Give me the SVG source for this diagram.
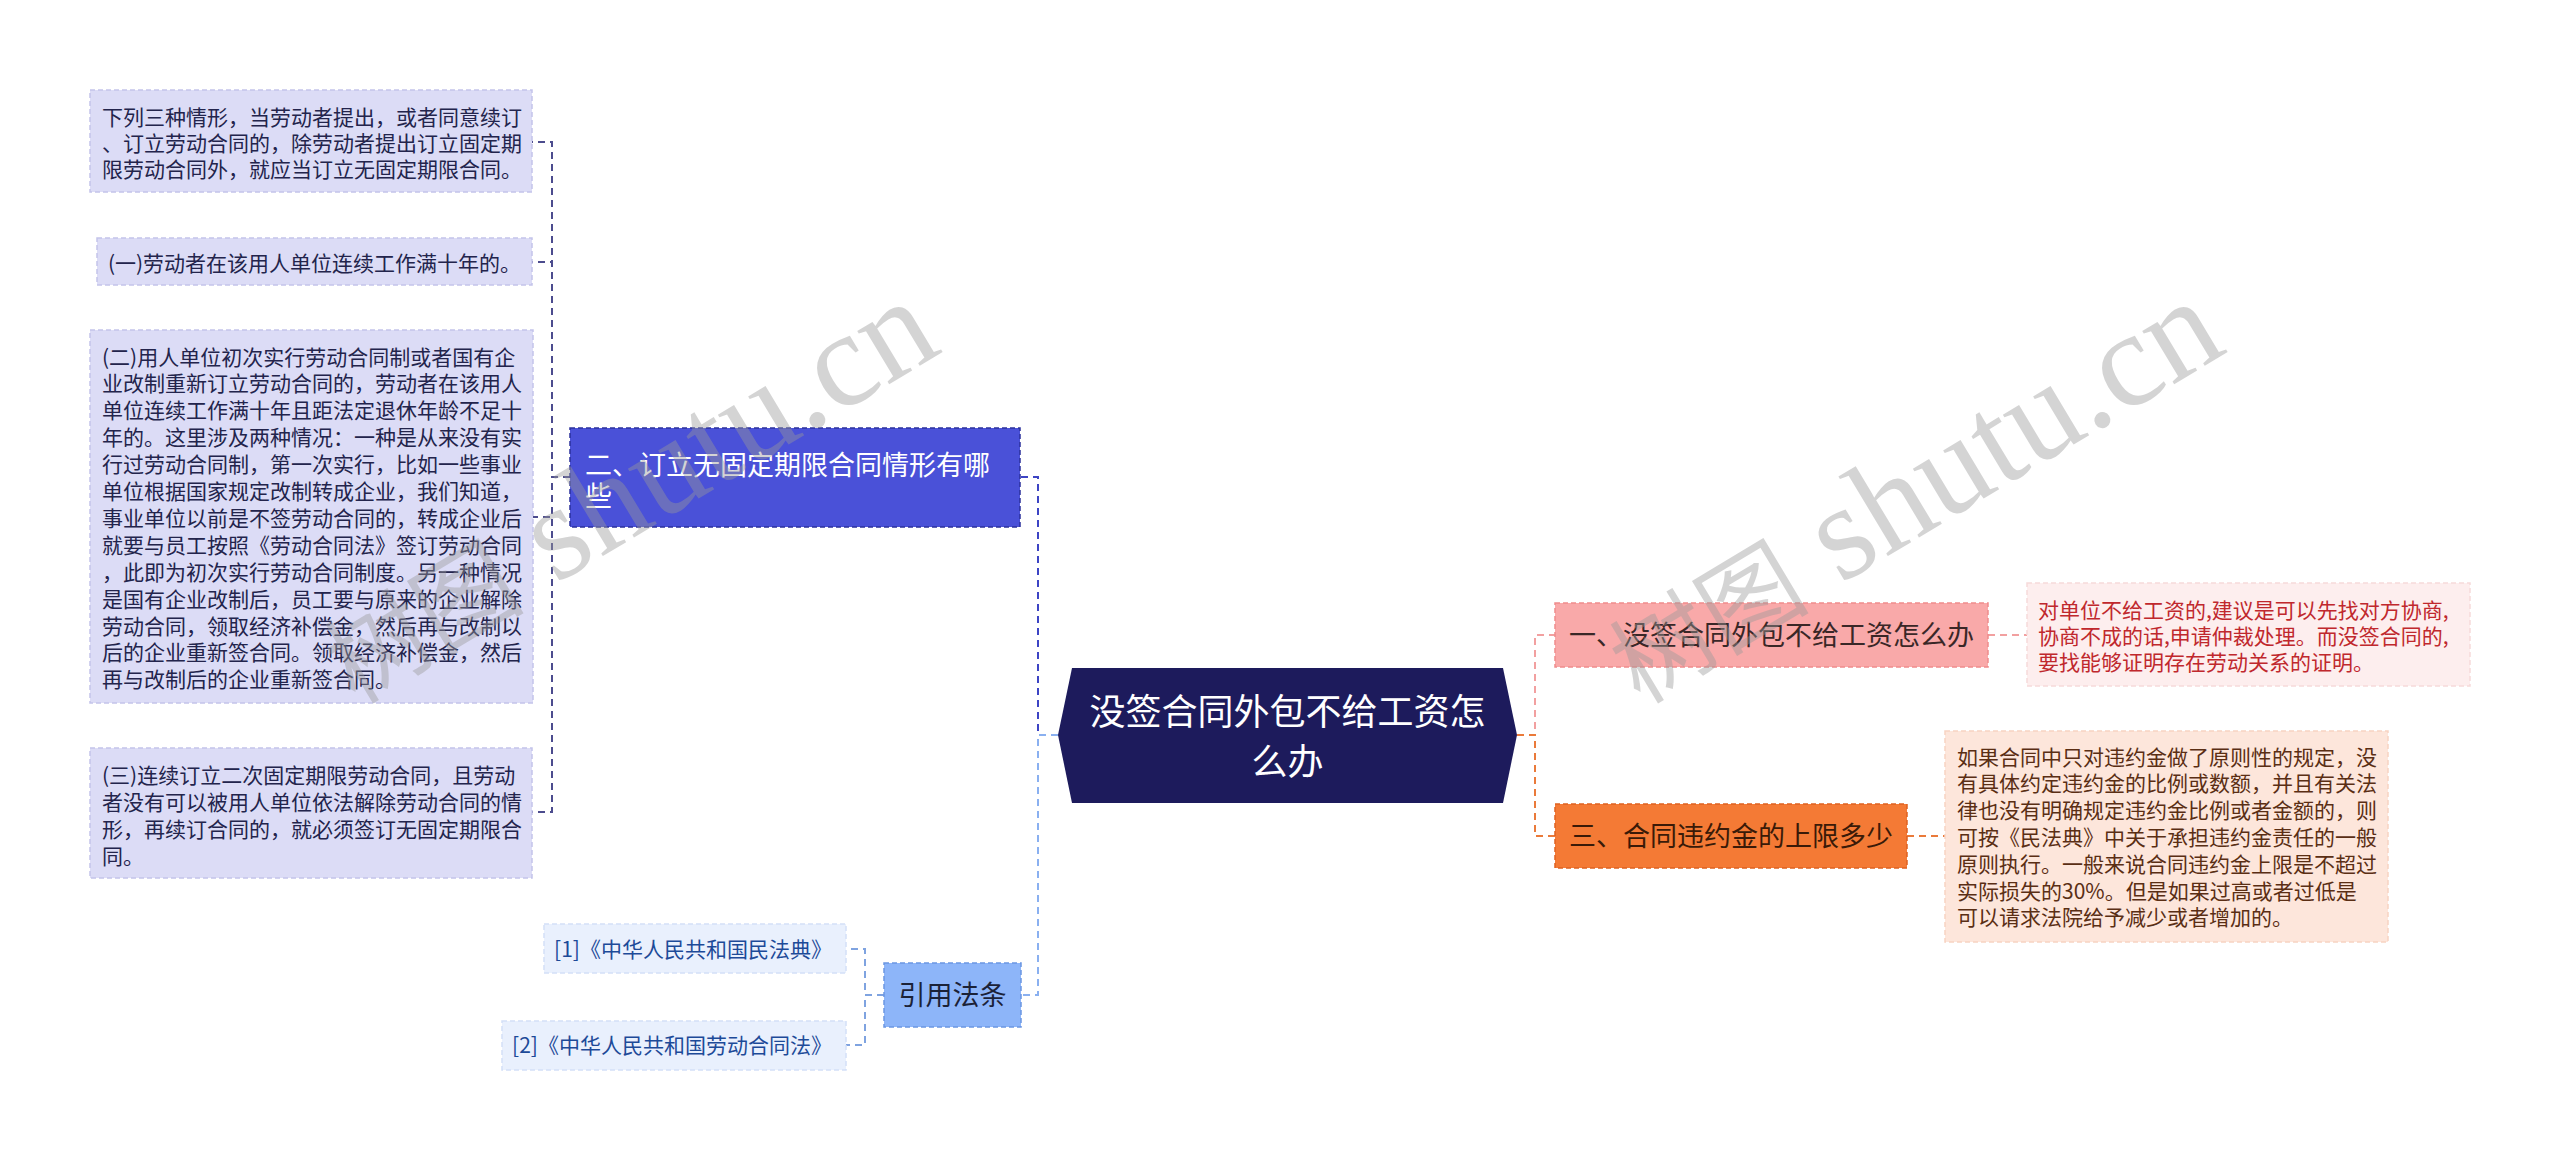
<svg xmlns="http://www.w3.org/2000/svg" width="2560" height="1155" viewBox="0 0 2560 1155">
<defs>
<style>
text{font-family:'Noto Sans CJK SC','Noto Sans',sans-serif;}
.conn{fill:none;stroke-width:2;stroke-dasharray:7 5;}
.lf{font-size:21px;fill:#23244c;}
.leafL{fill:#dcdcf6;stroke:#c4c4ea;stroke-width:1.5;stroke-dasharray:5 3;}
.cite{fill:#e9f0fd;stroke:#d3e0f8;stroke-width:1.5;stroke-dasharray:5 3;}
.citeT{font-size:21px;fill:#1d4a98;}
.wm{fill:#9a9a9a;opacity:0.42;}
</style>
</defs>
<rect width="2560" height="1155" fill="#ffffff"/>

<g id="connectors">
<path class="conn" stroke="#3d44c4" d="M1058,735 H1038 V477 H1020"/>
<path class="conn" stroke="#8ab0f0" d="M1058,735 H1038 V995 H1021"/>
<path class="conn" stroke="#f2a0a0" d="M1517,735 H1535 V635 H1555"/>
<path class="conn" stroke="#ea7a3a" d="M1517,735 H1535 V836 H1555"/>
<path class="conn" stroke="#4c4c8e" d="M570,477 H552 V142 H532"/>
<path class="conn" stroke="#4c4c8e" d="M570,477 H552 V262 H532"/>
<path class="conn" stroke="#4c4c8e" d="M570,477 H552 V517 H533"/>
<path class="conn" stroke="#4c4c8e" d="M570,477 H552 V812 H532"/>
<path class="conn" stroke="#f2a0a0" d="M1988,635 H2027"/>
<path class="conn" stroke="#ea7a3a" d="M1907,836 H1945"/>
<path class="conn" stroke="#7fa3e0" d="M884,995 H865 V949 H846"/>
<path class="conn" stroke="#7fa3e0" d="M884,995 H865 V1045 H846"/>
</g>

<g id="root">
<polygon points="1058,735 1072,668 1503,668 1517,735 1503,803 1072,803" fill="#1d1b5c"/>
<text x="1287.5" y="724.5" font-size="36" fill="#ffffff" text-anchor="middle">没签合同外包不给工资怎</text>
<text x="1287.5" y="774.5" font-size="36" fill="#ffffff" text-anchor="middle">么办</text>
</g>

<g id="node-2">
<rect x="570" y="428" width="450" height="99" fill="#4a51d8" stroke="#2b309c" stroke-width="1.5" stroke-dasharray="5 3"/>
<text x="585" y="475" font-size="27" fill="#ffffff">二、订立无固定期限合同情形有哪</text>
<text x="585" y="506" font-size="27" fill="#ffffff">些</text>
</g>

<g id="leaf-2a">
<rect class="leafL" x="90" y="90" width="442" height="102"/>
<text class="lf" x="102" y="124.5">下列三种情形，当劳动者提出，或者同意续订</text>
<text class="lf" x="102" y="150.5">、订立劳动合同的，除劳动者提出订立固定期</text>
<text class="lf" x="102" y="176.5">限劳动合同外，就应当订立无固定期限合同。</text>
</g>

<g id="leaf-2b">
<rect class="leafL" x="97" y="238" width="435" height="47"/>
<text class="lf" x="314.5" y="270.5" text-anchor="middle">(一)劳动者在该用人单位连续工作满十年的。</text>
</g>

<g id="leaf-2c">
<rect class="leafL" x="90" y="330" width="443" height="373"/>
<text class="lf" x="102" y="364.5">(二)用人单位初次实行劳动合同制或者国有企</text>
<text class="lf" x="102" y="391.4">业改制重新订立劳动合同的，劳动者在该用人</text>
<text class="lf" x="102" y="418.3">单位连续工作满十年且距法定退休年龄不足十</text>
<text class="lf" x="102" y="445.2">年的。这里涉及两种情况：一种是从来没有实</text>
<text class="lf" x="102" y="472.1">行过劳动合同制，第一次实行，比如一些事业</text>
<text class="lf" x="102" y="499">单位根据国家规定改制转成企业，我们知道，</text>
<text class="lf" x="102" y="525.9">事业单位以前是不签劳动合同的，转成企业后</text>
<text class="lf" x="102" y="552.8">就要与员工按照《劳动合同法》签订劳动合同</text>
<text class="lf" x="102" y="579.7">，此即为初次实行劳动合同制度。另一种情况</text>
<text class="lf" x="102" y="606.6">是国有企业改制后，员工要与原来的企业解除</text>
<text class="lf" x="102" y="633.5">劳动合同，领取经济补偿金，然后再与改制以</text>
<text class="lf" x="102" y="660.4">后的企业重新签合同。领取经济补偿金，然后</text>
<text class="lf" x="102" y="687.3">再与改制后的企业重新签合同。</text>
</g>

<g id="leaf-2d">
<rect class="leafL" x="90" y="748" width="442" height="130"/>
<text class="lf" x="102" y="782.5">(三)连续订立二次固定期限劳动合同，且劳动</text>
<text class="lf" x="102" y="809.5">者没有可以被用人单位依法解除劳动合同的情</text>
<text class="lf" x="102" y="836.5">形，再续订合同的，就必须签订无固定期限合</text>
<text class="lf" x="102" y="863.5">同。</text>
</g>

<g id="node-cite">
<rect x="884" y="963" width="137" height="64" fill="#8db5f9" stroke="#6b96e2" stroke-width="1.5" stroke-dasharray="5 3"/>
<text x="952.5" y="1004.5" font-size="27" fill="#1b2238" text-anchor="middle">引用法条</text>
</g>

<g id="cite-1">
<rect class="cite" x="544" y="924" width="302" height="49"/>
<text class="citeT" x="693" y="957" text-anchor="middle">[1]《中华人民共和国民法典》</text>
</g>

<g id="cite-2">
<rect class="cite" x="502" y="1021" width="344" height="49"/>
<text class="citeT" x="672" y="1053" text-anchor="middle">[2]《中华人民共和国劳动合同法》</text>
</g>

<g id="node-1">
<rect x="1555" y="603" width="433" height="64" fill="#f9a9a9" stroke="#f08c8c" stroke-width="1.5" stroke-dasharray="5 3"/>
<text x="1771.5" y="644.5" font-size="27" fill="#3a2727" text-anchor="middle">一、没签合同外包不给工资怎么办</text>
</g>

<g id="leaf-1">
<rect x="2027" y="583" width="443" height="103" fill="#fdeeee" stroke="#f6dada" stroke-width="1.5" stroke-dasharray="5 3"/>
<text x="2038" y="617.5" font-size="21" fill="#c0282d">对单位不给工资的,建议是可以先找对方协商,</text>
<text x="2038" y="643.5" font-size="21" fill="#c0282d">协商不成的话,申请仲裁处理。而没签合同的,</text>
<text x="2038" y="669.5" font-size="21" fill="#c0282d">要找能够证明存在劳动关系的证明。</text>
</g>

<g id="node-3">
<rect x="1555" y="804" width="352" height="64" fill="#f47a35" stroke="#de6220" stroke-width="1.5" stroke-dasharray="5 3"/>
<text x="1731" y="846" font-size="27" fill="#3a1a08" text-anchor="middle">三、合同违约金的上限多少</text>
</g>

<g id="leaf-3">
<rect x="1945" y="731" width="443" height="211" fill="#fde6db" stroke="#f8d3c2" stroke-width="1.5" stroke-dasharray="5 3"/>
<text x="1957" y="764.5" font-size="21" fill="#5a2e14">如果合同中只对违约金做了原则性的规定，没</text>
<text x="1957" y="791.3" font-size="21" fill="#5a2e14">有具体约定违约金的比例或数额，并且有关法</text>
<text x="1957" y="818.1" font-size="21" fill="#5a2e14">律也没有明确规定违约金比例或者金额的，则</text>
<text x="1957" y="844.9" font-size="21" fill="#5a2e14">可按《民法典》中关于承担违约金责任的一般</text>
<text x="1957" y="871.7" font-size="21" fill="#5a2e14">原则执行。一般来说合同违约金上限是不超过</text>
<text x="1957" y="898.5" font-size="21" fill="#5a2e14">实际损失的30%。但是如果过高或者过低是</text>
<text x="1957" y="925.3" font-size="21" fill="#5a2e14">可以请求法院给予减少或者增加的。</text>
</g>

<g id="watermarks">
<text class="wm" x="355" y="705" transform="rotate(-31 355 705)"><tspan font-size="100">树图</tspan><tspan font-family="'Liberation Serif',serif" font-size="135"> shutu.cn</tspan></text>
<text class="wm" x="1640" y="705" transform="rotate(-31 1640 705)"><tspan font-size="100">树图</tspan><tspan font-family="'Liberation Serif',serif" font-size="135"> shutu.cn</tspan></text>
</g>
</svg>
